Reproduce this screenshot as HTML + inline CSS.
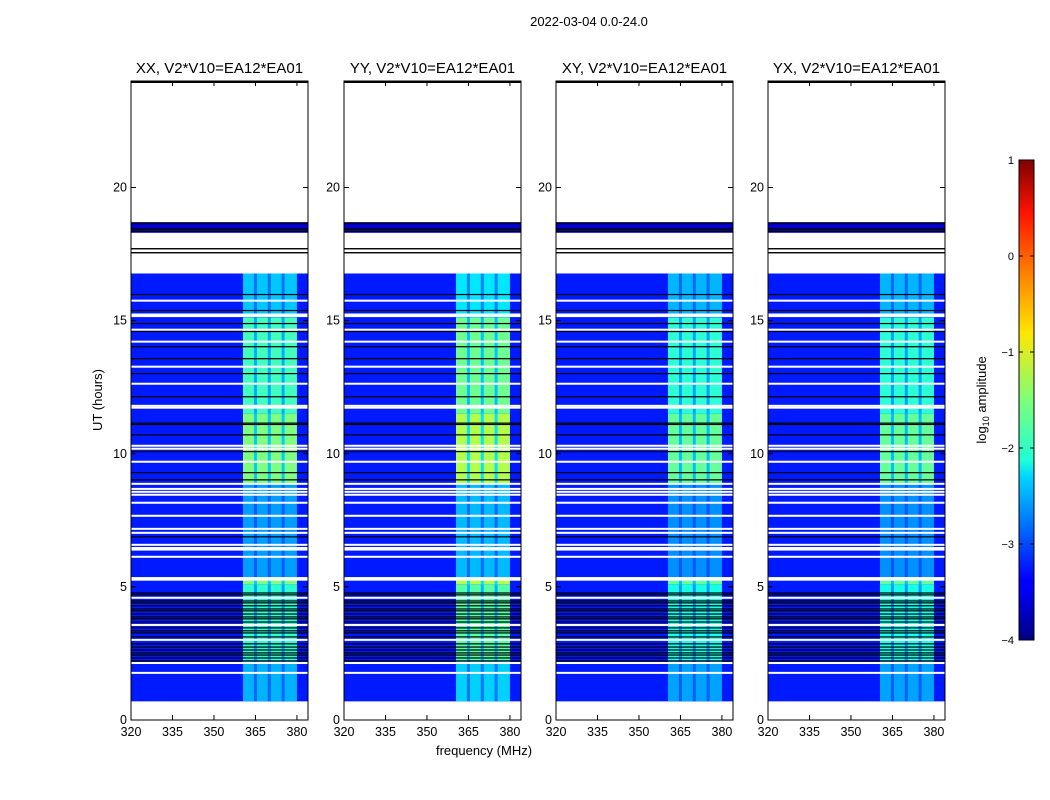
<!DOCTYPE html>
<html><head><meta charset="utf-8"><style>
body{margin:0;background:#fff;}
svg{display:block;font-family:"Liberation Sans",sans-serif;}
</style></head><body>
<svg id="fig" width="1050" height="800" viewBox="0 0 1050 800" xmlns="http://www.w3.org/2000/svg">
<defs>
<linearGradient id="jet" x1="0" y1="1" x2="0" y2="0">
<stop offset="0" stop-color="#00007f"/><stop offset="0.11" stop-color="#0000ff"/><stop offset="0.125" stop-color="#0000ff"/>
<stop offset="0.34" stop-color="#00d4ff"/><stop offset="0.375" stop-color="#1fffd7"/><stop offset="0.5" stop-color="#7dff7a"/>
<stop offset="0.64" stop-color="#ffe600"/><stop offset="0.75" stop-color="#ff8c00"/><stop offset="0.89" stop-color="#ff1300"/><stop offset="1" stop-color="#7f0000"/>
</linearGradient>
</defs>
<text x="589" y="26" font-size="13" text-anchor="middle">2022-03-04 0.0-24.0</text>
<g id="panels"></g>
<text transform="translate(102,400) rotate(-90)" font-size="13" text-anchor="middle">UT (hours)</text>
<text x="484" y="755" font-size="13" text-anchor="middle">frequency (MHz)</text>
<g id="cbar"></g>
</svg>
<script>
// ---- data ----
const panelTitles = ["XX, V2*V10=EA12*EA01","YY, V2*V10=EA12*EA01","XY, V2*V10=EA12*EA01","YX, V2*V10=EA12*EA01"];
const panelGain = [1.0, 1.1, 0.95, 0.95];
const xTicks = [320,335,350,365,380];
const yTicks = [0,5,10,15,20];
const cbarTicks = [1,0,-1,-2,-3,-4];
const dataStart = 0.7, dataEnd = 16.77;
const backgroundLevel = -3.25;
const bandStart = 360.5, bandEnd = 380;
const bandStripes = [365,370,375];
// band segments: [startHour, endHour, log10 amplitude]
const bandSegStart = [0.7,2.2,5.1,5.3,8.9,11.5,15.1];
const bandSegEnd   = [2.2,5.1,5.3,8.9,11.5,15.1,16.77];
const bandSegLevel = [-2.5,-1.9,-1.5,-2.6,-1.5,-1.8,-2.4];
const whiteLines = [15.75,15.23,15.17,14.66,14.21,13.27,12.63,11.80,11.73,10.30,10.19,9.70,8.87,8.68,8.57,8.46,8.16,7.67,7.18,7.03,6.58,6.46,6.40,6.13,5.33,5.27,4.59,3.57,3.01,2.14,1.77];
const blackLines = [15.98,15.38,14.89,14.59,14.02,13.57,13.01,12.14,11.15,11.10,10.71,10.08,9.29,9.02,6.88,4.77,4.70,4.47,4.40,4.29,4.17,4.10,3.98,3.87,3.80,3.68,3.46,3.35,3.27,3.12,2.86,2.74,2.63,2.52,2.44,2.33,2.22];
const topBandStart = 18.3, topBandEnd = 18.7;
const topBlackLines = [18.35,18.45,18.65,17.7,17.55];

// ---- helpers ----
const NS="http://www.w3.org/2000/svg";
function jet(v){
  let t=(v+4)/5; t=Math.max(0,Math.min(1,t));
  const r=Math.max(0,Math.min(1,1.5-Math.abs(4*t-3)));
  const g=Math.max(0,Math.min(1,1.5-Math.abs(4*t-2)));
  const b=Math.max(0,Math.min(1,1.5-Math.abs(4*t-1)));
  return `rgb(${Math.round(r*255)},${Math.round(g*255)},${Math.round(b*255)})`;
}
function mk(tag,attrs,parent){const e=document.createElementNS(NS,tag);for(const k in attrs)e.setAttribute(k,attrs[k]);parent.appendChild(e);return e;}
const panelsG=document.getElementById('panels');
const panelX=[131,344,556,768], PW=177, PT=81, PB=720;
const fx0=320, fx1=384, hMax=24;

panelX.forEach((px,pi)=>{
  const xs=f=>px+(f-fx0)/(fx1-fx0)*PW;
  const ys=h=>PB-(h/hMax)*(PB-PT);
  const g=mk('g',{},panelsG);
  
  
  const bg=mk('rect',{x:px,y:ys(dataEnd),width:PW,height:ys(dataStart)-ys(dataEnd),fill:jet(backgroundLevel)},g);
  
  
  for(let i=0;i<bandSegStart.length;i++){
    const lv=-4+(bandSegLevel[i]+4)*panelGain[pi];
    const r=mk('rect',{x:xs(bandStart),y:ys(bandSegEnd[i]),width:xs(bandEnd)-xs(bandStart),height:ys(bandSegStart[i])-ys(bandSegEnd[i]),fill:jet(lv)},g);
    
    
    bandStripes.forEach(f=>{
      const s=mk('rect',{x:xs(f)-1.5,y:ys(bandSegEnd[i]),width:3,height:ys(bandSegStart[i])-ys(bandSegEnd[i]),fill:jet((lv+backgroundLevel)/2)},g);
      
      
    });
  }
  const tb=mk('rect',{x:px,y:ys(topBandEnd),width:PW,height:ys(topBandStart)-ys(topBandEnd),fill:jet(-3.6)},g);
  
  
  topBlackLines.forEach(h=>{
    const l=mk('rect',{x:px,y:ys(h)-0.7,width:PW,height:1.4,fill:'#000'},g);
    
    
  });
  whiteLines.forEach(h=>{
    const l=mk('rect',{x:px,y:ys(h)-1,width:PW,height:2,fill:'#fff'},g);
    
    
  });
  blackLines.forEach(h=>{
    const l=mk('rect',{x:px,y:ys(h)-0.6,width:PW,height:1.2,fill:'#000'},g);
    
    
  });
  const fr=mk('rect',{x:px,y:PT,width:PW,height:PB-PT,fill:'none',stroke:'#000','stroke-width':1},g);
  
  
  mk('line',{x1:px,x2:px+PW,y1:PT+1,y2:PT+1,stroke:'#000','stroke-width':2},g);
  const t=mk('text',{x:px+PW/2,y:73,'font-size':15,'text-anchor':'middle'},g);
  t.textContent=panelTitles[pi];
  
  
  xTicks.forEach(f=>{
    const x=xs(f);
    mk('line',{x1:x,x2:x,y1:PB,y2:PB-5,stroke:'#000'},g);
    mk('line',{x1:x,x2:x,y1:PT,y2:PT+5,stroke:'#000'},g);
    const tl=mk('text',{x:x,y:PB+16,'font-size':12.5,'text-anchor':'middle'},g);
    tl.textContent=f;
    
    
  });
  yTicks.forEach(h=>{
    const y=ys(h);
    mk('line',{x1:px,x2:px+5,y1:y,y2:y,stroke:'#000'},g);
    mk('line',{x1:px+PW,x2:px+PW-5,y1:y,y2:y,stroke:'#000'},g);
    const tl=mk('text',{x:px-4,y:y+4,'font-size':12.5,'text-anchor':'end'},g);
    tl.textContent=h;
    
    
  });
});

const cb=document.getElementById('cbar');
const CX=1019, CW=15, CT=160, CB=640;
mk('rect',{x:CX,y:CT,width:CW,height:CB-CT,fill:'url(#jet)',stroke:'#000','stroke-width':1},cb);
cbarTicks.forEach(v=>{
  const y=CB-(v+4)/5*(CB-CT);
  mk('line',{x1:CX,x2:CX+4,y1:y,y2:y,stroke:'#000'},cb);
  mk('line',{x1:CX+CW,x2:CX+CW-4,y1:y,y2:y,stroke:'#000'},cb);
  const tl=mk('text',{x:CX-5,y:y+4,'font-size':11,'text-anchor':'end'},cb);
  tl.textContent=(v<0?'\u2212'+(-v):v);
  
  
});
const cl=mk('text',{transform:'translate(986,400) rotate(-90)','font-size':13,'text-anchor':'middle'},cb);
cl.innerHTML='log<tspan font-size="9" dy="3">10</tspan><tspan dy="-3"> amplitude</tspan>';


</script>
</body></html>
